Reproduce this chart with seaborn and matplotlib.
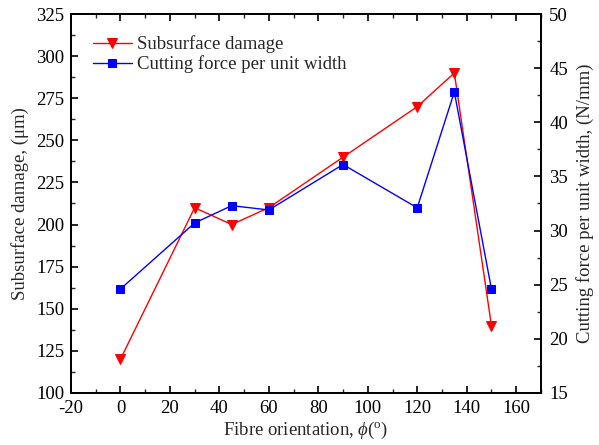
import matplotlib
matplotlib.use("Agg")
import matplotlib.pyplot as plt
import seaborn as sns
import pandas as pd
from matplotlib.ticker import MultipleLocator

sns.set_theme(style="ticks")
plt.rcParams['font.family'] = ['Liberation Serif', 'DejaVu Serif']
plt.rcParams['mathtext.fontset'] = 'custom'
plt.rcParams['mathtext.it'] = 'Liberation Serif:italic'
plt.rcParams['mathtext.rm'] = 'Liberation Serif'
plt.rcParams['axes.unicode_minus'] = False

orientation = [0, 30, 45, 60, 90, 120, 135, 150]
damage = [120, 210, 200, 210, 240, 270, 290, 140]
force = [24.6, 30.7, 32.3, 31.9, 36.1, 32.1, 42.8, 24.6]

df = pd.DataFrame({"phi": orientation, "damage": damage, "force": force})

fig = plt.figure(figsize=(5.99, 4.45), dpi=100)
ax = fig.add_axes([0.1185, 0.117, 0.7845, 0.8515])
ax2 = ax.twinx()

sns.lineplot(data=df, x="phi", y="damage", ax=ax, color="#ff0000", marker="v",
             markersize=7, markeredgecolor="#ff0000", linewidth=1, label="Subsurface damage", legend=False)
sns.lineplot(data=df, x="phi", y="force", ax=ax2, color="#0000ff", marker="s",
             markersize=5.5, markeredgecolor="#0000ff", linewidth=1, label="Cutting force per unit width", legend=False)

ax.set_xlim(-20, 170)
ax.set_ylim(100, 325)
ax2.set_ylim(15, 50)
ax.xaxis.set_major_locator(MultipleLocator(20))
ax.xaxis.set_minor_locator(MultipleLocator(10))
ax.yaxis.set_major_locator(MultipleLocator(25))
ax.yaxis.set_minor_locator(MultipleLocator(12.5))
ax2.yaxis.set_major_locator(MultipleLocator(5))
ax2.yaxis.set_minor_locator(MultipleLocator(2.5))
ax.set_xticks(range(-20, 161, 20))

FS = 13.5
for a in (ax, ax2):
    for s in a.spines.values():
        s.set_linewidth(1.3)
        s.set_color("black")
ax.tick_params(axis="both", which="major", direction="in", length=5, width=1.2, labelsize=FS, top=True, right=False, colors="black")
ax.tick_params(axis="x", which="major", pad=5)
ax.tick_params(axis="y", which="major", pad=5)
ax.tick_params(axis="both", which="minor", direction="in", length=3, width=1.0, top=True, right=False)
ax2.tick_params(axis="y", which="major", direction="in", length=5, width=1.2, labelsize=FS, colors="black", pad=6)
ax2.tick_params(axis="y", which="minor", direction="in", length=3, width=1.0)

ax.set_xlabel(r"Fibre orientation, $\it{\phi}$($^{\rm o}$)", fontsize=FS, labelpad=2)
ax.set_ylabel("Subsurface damage, (μm)", fontsize=FS, labelpad=5)
ax2.set_ylabel("Cutting force per unit width, (N/mm)", fontsize=FS, labelpad=6)

h1, l1 = ax.get_legend_handles_labels()
h2, l2 = ax2.get_legend_handles_labels()
ax.legend(h1 + h2, l1 + l2, loc="upper left", frameon=False, fontsize=FS,
          handlelength=2.1, handletextpad=0.25, labelspacing=0.1, borderaxespad=0.3,
          bbox_to_anchor=(0.018, 0.978))

fig.savefig("out.png", dpi=100)
